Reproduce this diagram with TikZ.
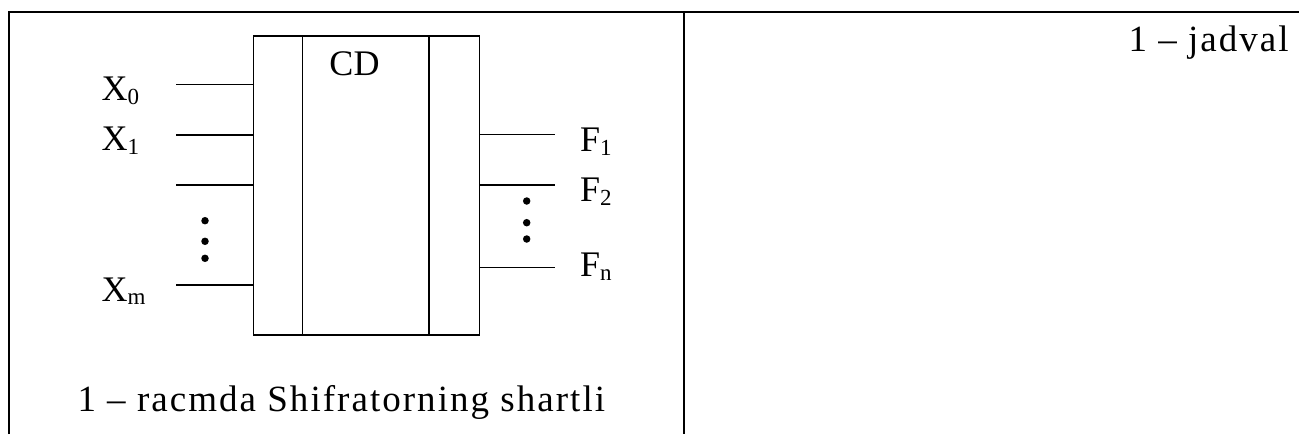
\documentclass[tikz,border=0pt]{standalone}
\usepackage{fontspec}
\setmainfont{Liberation Serif}
\newfontfamily\spacedserif[LetterSpace=5.5]{Liberation Serif}
\newcommand{\lsub}[1]{\raisebox{-3.3pt}{\fontsize{23}{23}\selectfont #1}}
\begin{document}
\begin{tikzpicture}[x=1pt,y=-1pt,
  tableline/.style={line width=2pt},
  wire/.style={line width=1.6pt},
  lbl/.style={inner sep=0pt,anchor=base west,font=\fontsize{36}{40}\selectfont},
  caption/.style={inner sep=0pt,anchor=base west,font=\fontsize{37}{42}\selectfont\spacedserif},
  dot/.style={circle,fill=black,inner sep=0pt,minimum size=7.5pt}]
\useasboundingbox (0,0) rectangle (1299,434);
% table frame
\coordinate (tl) at (8.7,12);
\coordinate (tr) at (1299,12);
\coordinate (bl) at (8.7,434);
\coordinate (tm) at (683.7,12);
\coordinate (bm) at (683.7,434);
\draw[tableline] (bl) -- (tl) -- (tr);
\draw[tableline] (tm) -- (bm);
% coder block
\node (cd) [draw,wire,inner sep=0pt,anchor=north west,minimum width=226pt,minimum height=299.3pt] at (252.7,35) {};
\coordinate (sl) at (302.3,35);
\coordinate (sr) at (429,35);
\draw[wire] (sl) -- (sl |- cd.south);
\draw[wire] (sr) -- (sr |- cd.south);
\node[lbl,anchor=base] (cdt) at (354.5,75) {CD};
% inputs
\coordinate (i0) at (176,84.3);
\coordinate (i1) at (176,135);
\coordinate (i2) at (176,184.7);
\coordinate (im) at (176,285);
\foreach \c in {i0,i1,i2,im} \draw[wire] (\c) -- (\c -| cd.west);
\node[lbl] (lx0) at (101.5,100.7) {X\lsub{0}};
\node[lbl] (lx1) at (101.5,150.7) {X\lsub{1}};
\node[lbl] (lxm) at (101.5,301.2) {X\lsub{m}};
\node[dot] (ld1) at (205,220.7) {};
\node[dot] (ld2) at (205,241.3) {};
\node[dot] (ld3) at (205,258.3) {};
% outputs
\coordinate (o1) at (555,134.3);
\coordinate (o2) at (555,185);
\coordinate (on) at (555,267.3);
\foreach \c in {o1,o2,on} \draw[wire] (\c -| cd.east) -- (\c);
\node[lbl] (lf1) at (580,151.7) {F\lsub{1}};
\node[lbl] (lf2) at (580,201.7) {F\lsub{2}};
\node[lbl] (lfn) at (580,276.7) {F\lsub{n}};
\node[dot] (rd1) at (526.7,201) {};
\node[dot] (rd2) at (526.7,222.7) {};
\node[dot] (rd3) at (526.7,239) {};
% captions
\node[caption] (cap1) at (77.3,411.7) {1 – racmda Shifratorning shartli};
\node[caption] (cap2) at (1128.3,51.7) {1 – jadval};
\end{tikzpicture}
\end{document}
